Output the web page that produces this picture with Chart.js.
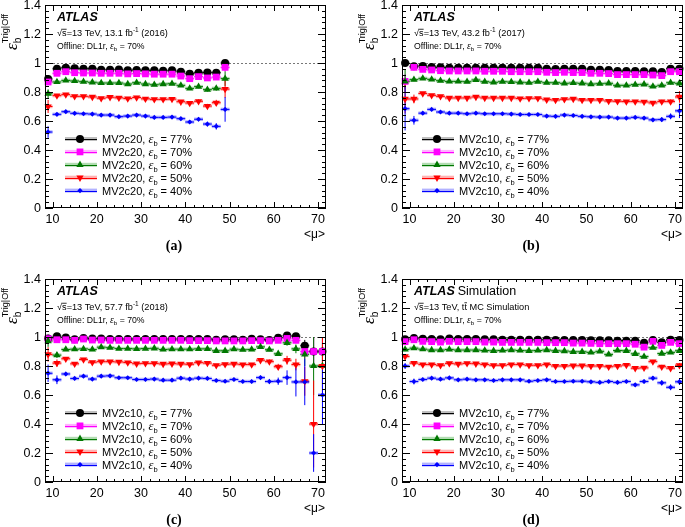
<!DOCTYPE html>
<html>
<head>
<meta charset="utf-8">
<script src="https://cdn.jsdelivr.net/npm/chart.js@4.4.1/dist/chart.umd.min.js"></script>
<style>
  html, body { margin: 0; padding: 0; background: #fff; overflow: hidden; }
  #wrap { position: relative; width: 685px; height: 527px; overflow: hidden; }
  canvas { position: absolute; }
</style>
</head>
<body>
<div id="wrap">
  <canvas id="pa" width="340" height="262" style="left:0;top:0"></canvas>
  <canvas id="pb" width="340" height="262" style="left:357px;top:0"></canvas>
  <canvas id="pc" width="340" height="262" style="left:0;top:274px"></canvas>
  <canvas id="pd" width="340" height="262" style="left:357px;top:274px"></canvas>
</div>
<script>
// axis ticks
const xTicks = [10, 20, 30, 40, 50, 60, 70];
const yTicks = [0, 0.2, 0.4, 0.6, 0.8, 1.0, 1.2, 1.4];
const wpLabels = ["77%", "70%", "60%", "50%", "40%"];

// <mu> bin centres
const mu2016 = [9, 11, 13, 15, 17, 19, 21, 23, 25, 27, 29, 31, 33, 35, 37, 39, 41, 43, 45, 47, 49];
const muFull = [9, 11, 13, 15, 17, 19, 21, 23, 25, 27, 29, 31, 33, 35, 37, 39,
                41, 43, 45, 47, 49, 51, 53, 55, 57, 59, 61, 63, 65, 67, 69, 71];

// (a) 2016, MV2c20
const effA77 = [0.89, 0.96, 0.968, 0.963, 0.961, 0.961, 0.954, 0.954, 0.955, 0.95, 0.952, 0.95, 0.95, 0.947, 0.95, 0.94, 0.926, 0.933, 0.935, 0.933, 1.0];
const effA70 = [0.869, 0.929, 0.94, 0.933, 0.931, 0.931, 0.929, 0.929, 0.929, 0.925, 0.927, 0.925, 0.923, 0.923, 0.923, 0.91, 0.892, 0.906, 0.897, 0.903, 0.97];
const effA60 = [0.788, 0.869, 0.88, 0.876, 0.871, 0.867, 0.862, 0.862, 0.862, 0.855, 0.864, 0.855, 0.85, 0.855, 0.857, 0.846, 0.825, 0.837, 0.816, 0.825, 0.892];
const effA50 = [0.70, 0.775, 0.782, 0.77, 0.77, 0.766, 0.757, 0.764, 0.76, 0.755, 0.762, 0.753, 0.749, 0.749, 0.751, 0.733, 0.724, 0.736, 0.703, 0.726, 0.82];
const effA40 = [0.524, 0.646, 0.664, 0.653, 0.65, 0.648, 0.641, 0.641, 0.63, 0.634, 0.641, 0.634, 0.625, 0.625, 0.627, 0.616, 0.593, 0.612, 0.579, 0.563, 0.68];
const errA77 = [0.015, 0.005, 0.004, 0.004, 0.004, 0.004, 0.004, 0.004, 0.004, 0.004, 0.004, 0.004, 0.005, 0.005, 0.005, 0.006, 0.007, 0.008, 0.009, 0.011, 0.02];
const errA70 = [0.02, 0.006, 0.005, 0.005, 0.005, 0.005, 0.005, 0.005, 0.005, 0.005, 0.005, 0.005, 0.006, 0.006, 0.006, 0.007, 0.008, 0.009, 0.011, 0.013, 0.03];
const errA60 = [0.03, 0.007, 0.006, 0.006, 0.006, 0.006, 0.006, 0.006, 0.006, 0.006, 0.006, 0.006, 0.007, 0.007, 0.007, 0.008, 0.009, 0.011, 0.013, 0.016, 0.05];
const errA50 = [0.045, 0.008, 0.007, 0.007, 0.007, 0.007, 0.007, 0.007, 0.007, 0.007, 0.007, 0.007, 0.008, 0.008, 0.008, 0.009, 0.011, 0.013, 0.015, 0.02, 0.06];
const errA40 = [0.04, 0.009, 0.008, 0.008, 0.008, 0.008, 0.008, 0.008, 0.008, 0.008, 0.008, 0.008, 0.009, 0.009, 0.009, 0.01, 0.012, 0.014, 0.016, 0.022, 0.085];

// (b) 2017, MV2c10
const effB77 = [1.0, 0.977, 0.98, 0.972, 0.97, 0.968, 0.968, 0.968,
                0.968, 0.968, 0.968, 0.968, 0.968, 0.968, 0.968, 0.968,
                0.961, 0.959, 0.961, 0.961, 0.961, 0.954, 0.954, 0.952,
                0.945, 0.945, 0.945, 0.943, 0.943, 0.938, 0.961, 0.961];
const effB70 = [0.873, 0.97, 0.956, 0.952, 0.947, 0.945, 0.945, 0.945,
                0.945, 0.943, 0.943, 0.943, 0.94, 0.94, 0.94, 0.94,
                0.936, 0.934, 0.936, 0.934, 0.934, 0.929, 0.929, 0.927,
                0.92, 0.92, 0.92, 0.92, 0.917, 0.913, 0.94, 0.94];
const effB60 = [0.873, 0.885, 0.894, 0.887, 0.878, 0.873, 0.873, 0.871,
                0.883, 0.871, 0.867, 0.871, 0.869, 0.867, 0.864, 0.871,
                0.864, 0.864, 0.86, 0.862, 0.86, 0.855, 0.857, 0.86,
                0.846, 0.846, 0.851, 0.853, 0.839, 0.846, 0.864, 0.86];
const effB50 = [0.752, 0.752, 0.79, 0.777, 0.77, 0.759, 0.759, 0.759,
                0.766, 0.759, 0.759, 0.759, 0.759, 0.755, 0.757, 0.757,
                0.747, 0.745, 0.75, 0.752, 0.745, 0.745, 0.745, 0.738,
                0.736, 0.734, 0.734, 0.732, 0.725, 0.734, 0.734, 0.766];
const effB40 = [0.685, 0.605, 0.654, 0.68, 0.662, 0.654, 0.654, 0.65,
                0.654, 0.65, 0.65, 0.65, 0.648, 0.645, 0.645, 0.645,
                0.634, 0.632, 0.641, 0.638, 0.632, 0.629, 0.627, 0.627,
                0.62, 0.62, 0.625, 0.62, 0.608, 0.61, 0.632, 0.67];
const errB77 = [0.02, 0.006, 0.004, 0.004, 0.003, 0.003, 0.003, 0.003,
                0.003, 0.003, 0.003, 0.003, 0.003, 0.003, 0.003, 0.003,
                0.003, 0.003, 0.003, 0.003, 0.003, 0.003, 0.003, 0.003,
                0.004, 0.004, 0.004, 0.004, 0.005, 0.006, 0.008, 0.012];
const errB70 = [0.05, 0.008, 0.005, 0.004, 0.004, 0.004, 0.004, 0.004,
                0.004, 0.004, 0.004, 0.004, 0.004, 0.004, 0.004, 0.004,
                0.004, 0.004, 0.004, 0.004, 0.004, 0.004, 0.004, 0.004,
                0.005, 0.005, 0.005, 0.005, 0.006, 0.007, 0.01, 0.015];
const errB60 = [0.08, 0.01, 0.006, 0.005, 0.005, 0.005, 0.005, 0.005,
                0.005, 0.005, 0.005, 0.005, 0.005, 0.005, 0.005, 0.005,
                0.005, 0.005, 0.005, 0.005, 0.005, 0.005, 0.005, 0.005,
                0.006, 0.006, 0.006, 0.006, 0.007, 0.008, 0.012, 0.02];
const errB50 = [0.1, 0.03, 0.008, 0.006, 0.006, 0.006, 0.006, 0.006,
                0.006, 0.006, 0.006, 0.006, 0.006, 0.006, 0.006, 0.006,
                0.006, 0.006, 0.006, 0.006, 0.006, 0.006, 0.006, 0.006,
                0.007, 0.007, 0.008, 0.008, 0.009, 0.012, 0.015, 0.04];
const errB40 = [0.15, 0.03, 0.01, 0.008, 0.008, 0.008, 0.008, 0.008,
                0.008, 0.008, 0.008, 0.008, 0.008, 0.008, 0.008, 0.008,
                0.008, 0.008, 0.008, 0.008, 0.008, 0.008, 0.008, 0.008,
                0.009, 0.009, 0.01, 0.01, 0.012, 0.015, 0.02, 0.05];

// (c) 2018, MV2c10
const effC77 = [0.99, 1.005, 0.997, 0.984, 0.993, 0.99, 0.99, 0.986,
                0.986, 0.986, 0.986, 0.986, 0.986, 0.986, 0.986, 0.986,
                0.986, 0.986, 0.986, 0.981, 0.984, 0.984, 0.981, 0.988,
                0.984, 0.98, 0.995, 1.01, 1.005, 0.94, 0.9, 0.9];
const effC70 = [0.988, 0.981, 0.981, 0.977, 0.986, 0.979, 0.979, 0.977,
                0.977, 0.977, 0.977, 0.977, 0.977, 0.977, 0.977, 0.977,
                0.975, 0.975, 0.975, 0.973, 0.973, 0.973, 0.973, 0.975,
                0.975, 0.973, 0.977, 0.99, 0.977, 0.9, 0.9, 0.9];
const effC60 = [0.972, 0.875, 0.914, 0.916, 0.918, 0.914, 0.93, 0.926,
                0.92, 0.92, 0.918, 0.92, 0.922, 0.914, 0.916, 0.916,
                0.916, 0.918, 0.918, 0.905, 0.905, 0.916, 0.912, 0.914,
                0.932, 0.912, 0.884, 0.96, 0.918, 0.88, 0.8, 0.8];
const effC50 = [0.88, 0.82, 0.85, 0.815, 0.845, 0.826, 0.83, 0.83,
                0.828, 0.824, 0.816, 0.818, 0.818, 0.814, 0.816, 0.814,
                0.812, 0.823, 0.82, 0.805, 0.812, 0.814, 0.81, 0.81,
                0.84, 0.83, 0.795, 0.84, 0.81, 0.695, 0.4, 0.8];
const effC40 = [0.75, 0.705, 0.745, 0.714, 0.73, 0.71, 0.73, 0.732,
                0.719, 0.719, 0.707, 0.707, 0.71, 0.702, 0.702, 0.716,
                0.71, 0.716, 0.714, 0.7, 0.695, 0.707, 0.693, 0.693,
                0.72, 0.693, 0.695, 0.72, 0.69, 0.69, 0.2, 0.6];
const errC77 = [0.02, 0.008, 0.005, 0.004, 0.004, 0.004, 0.004, 0.004,
                0.004, 0.004, 0.004, 0.004, 0.004, 0.004, 0.004, 0.004,
                0.004, 0.004, 0.004, 0.004, 0.004, 0.004, 0.005, 0.005,
                0.005, 0.006, 0.008, 0.01, 0.015, 0.04, 0.1, 0.1];
const errC70 = [0.03, 0.01, 0.006, 0.005, 0.005, 0.005, 0.005, 0.005,
                0.005, 0.005, 0.005, 0.005, 0.005, 0.005, 0.005, 0.005,
                0.005, 0.005, 0.005, 0.005, 0.005, 0.005, 0.006, 0.006,
                0.006, 0.007, 0.01, 0.012, 0.02, 0.05, 0.1, 0.08];
const errC60 = [0.04, 0.02, 0.008, 0.006, 0.006, 0.006, 0.006, 0.006,
                0.006, 0.006, 0.006, 0.006, 0.006, 0.006, 0.006, 0.006,
                0.006, 0.006, 0.006, 0.006, 0.006, 0.006, 0.007, 0.008,
                0.008, 0.01, 0.015, 0.02, 0.03, 0.08, 0.2, 0.15];
const errC50 = [0.05, 0.025, 0.01, 0.008, 0.008, 0.008, 0.008, 0.008,
                0.008, 0.008, 0.008, 0.008, 0.008, 0.008, 0.008, 0.008,
                0.008, 0.008, 0.008, 0.008, 0.008, 0.008, 0.009, 0.01,
                0.01, 0.015, 0.02, 0.03, 0.04, 0.1, 0.3, 0.2];
const errC40 = [0.06, 0.03, 0.015, 0.01, 0.01, 0.01, 0.01, 0.01,
                0.01, 0.01, 0.01, 0.01, 0.01, 0.01, 0.01, 0.01,
                0.01, 0.01, 0.01, 0.01, 0.01, 0.01, 0.011, 0.012,
                0.012, 0.018, 0.025, 0.05, 0.1, 0.16, 0.13, 0.2];

// (d) ttbar MC simulation, MV2c10
const effD77 = [0.984, 0.993, 0.988, 0.986, 0.984, 0.99, 0.986, 0.986,
                0.986, 0.984, 0.984, 0.981, 0.981, 0.981, 0.981, 0.981,
                0.981, 0.979, 0.979, 0.979, 0.979, 0.977, 0.977, 0.977,
                0.975, 0.975, 0.975, 0.96, 0.979, 0.963, 0.981, 0.979];
const effD70 = [0.968, 0.981, 0.97, 0.968, 0.965, 0.97, 0.968, 0.968,
                0.968, 0.965, 0.965, 0.963, 0.963, 0.963, 0.963, 0.963,
                0.961, 0.961, 0.961, 0.958, 0.958, 0.956, 0.954, 0.954,
                0.954, 0.954, 0.95, 0.93, 0.97, 0.942, 0.963, 0.954];
const effD60 = [0.914, 0.923, 0.916, 0.91, 0.91, 0.914, 0.91, 0.91,
                0.91, 0.907, 0.905, 0.907, 0.91, 0.907, 0.905, 0.907,
                0.91, 0.905, 0.903, 0.898, 0.898, 0.894, 0.901, 0.88,
                0.907, 0.905, 0.884, 0.865, 0.926, 0.886, 0.894, 0.905];
const effD50 = [0.866, 0.82, 0.81, 0.81, 0.805, 0.818, 0.814, 0.818,
                0.816, 0.81, 0.805, 0.805, 0.81, 0.81, 0.805, 0.805,
                0.81, 0.8, 0.8, 0.802, 0.802, 0.8, 0.8, 0.795,
                0.8, 0.807, 0.785, 0.787, 0.83, 0.795, 0.785, 0.805];
const effD40 = [0.8, 0.693, 0.707, 0.716, 0.709, 0.718, 0.705, 0.709,
                0.705, 0.705, 0.7, 0.705, 0.705, 0.705, 0.695, 0.7,
                0.705, 0.693, 0.693, 0.695, 0.695, 0.691, 0.687, 0.693,
                0.687, 0.693, 0.67, 0.693, 0.716, 0.684, 0.653, 0.691];
const errD77 = [0.008, 0.005, 0.004, 0.003, 0.003, 0.003, 0.003, 0.003,
                0.003, 0.003, 0.003, 0.003, 0.003, 0.003, 0.003, 0.003,
                0.003, 0.003, 0.003, 0.003, 0.003, 0.003, 0.003, 0.003,
                0.004, 0.004, 0.004, 0.005, 0.006, 0.006, 0.007, 0.008];
const errD70 = [0.01, 0.006, 0.004, 0.004, 0.004, 0.004, 0.004, 0.004,
                0.004, 0.004, 0.004, 0.004, 0.004, 0.004, 0.004, 0.004,
                0.004, 0.004, 0.004, 0.004, 0.004, 0.004, 0.004, 0.004,
                0.005, 0.005, 0.005, 0.006, 0.007, 0.008, 0.009, 0.01];
const errD60 = [0.012, 0.008, 0.005, 0.005, 0.005, 0.005, 0.005, 0.005,
                0.005, 0.005, 0.005, 0.005, 0.005, 0.005, 0.005, 0.005,
                0.005, 0.005, 0.005, 0.005, 0.005, 0.005, 0.005, 0.005,
                0.006, 0.006, 0.007, 0.008, 0.009, 0.01, 0.011, 0.012];
const errD50 = [0.015, 0.012, 0.006, 0.006, 0.006, 0.006, 0.006, 0.006,
                0.006, 0.006, 0.006, 0.006, 0.006, 0.006, 0.006, 0.006,
                0.006, 0.006, 0.006, 0.006, 0.006, 0.006, 0.006, 0.006,
                0.008, 0.008, 0.009, 0.01, 0.012, 0.013, 0.015, 0.016];
const errD40 = [0.02, 0.02, 0.008, 0.008, 0.008, 0.008, 0.008, 0.008,
                0.008, 0.008, 0.008, 0.008, 0.008, 0.008, 0.008, 0.008,
                0.008, 0.008, 0.008, 0.008, 0.008, 0.008, 0.008, 0.008,
                0.01, 0.01, 0.012, 0.013, 0.015, 0.018, 0.02, 0.022];

const SANS = "'Liberation Sans', Arial, Helvetica, sans-serif";
const SERIF = "'Liberation Serif', 'Times New Roman', serif";
const sans = (size, style = "") => `${style} ${size}px ${SANS}`;
const greek = (size) => `italic ${size}px ${SERIF}`;
const SYS = 0.012; // half height of the light band

const styles = [
  { color: "#000000", band: "rgba(0,0,0,0.25)", pointStyle: "circle", radius: 4, rotation: 0 },
  { color: "#ff00ff", band: "rgba(255,0,255,0.3)", pointStyle: "rect", radius: 4.8, rotation: 0 },
  { color: "#007700", band: "rgba(0,140,0,0.3)", pointStyle: "triangle", radius: 4.2, rotation: 0 },
  { color: "#ff0000", band: "rgba(255,0,0,0.3)", pointStyle: "triangle", radius: 4.2, rotation: 180 },
  { color: "#0000ff", band: "rgba(0,0,255,0.3)", pointStyle: "rectRot", radius: 2.6, rotation: 0 },
];

Chart.defaults.font.family = SANS;

// draw a run of text pieces (sub/superscripts) along the baseline
function drawRich(ctx, x, y, parts) {
  let cx = x;
  parts.forEach((p) => {
    ctx.font = p.f;
    const yy = y + (p.dy || 0);
    ctx.fillText(p.t, cx, yy);
    const w = ctx.measureText(p.t).width;
    if (p.over) ctx.fillRect(cx, yy - p.over, w, 0.8);
    if (!p.stay) cx += w;
  });
  return cx;
}

const hepPlugin = {
  id: "hep",
  beforeDatasetsDraw(chart) {
    const { ctx, chartArea: a, scales: { x, y } } = chart;
    ctx.save();
    ctx.beginPath();
    ctx.rect(a.left, a.top, a.width, a.height);
    ctx.clip();
    // dotted line at unity
    const y1 = Math.round(y.getPixelForValue(1)) + 0.5;
    ctx.strokeStyle = "#777";
    ctx.lineWidth = 1;
    ctx.setLineDash([2, 2]);
    ctx.beginPath();
    ctx.moveTo(a.left, y1);
    ctx.lineTo(a.right, y1);
    ctx.stroke();
    ctx.setLineDash([]);
    // bands and error bars
    chart.data.datasets.forEach((ds, i) => {
      const st = styles[i];
      ds.data.forEach((p) => {
        const xl = x.getPixelForValue(p.x - 1);
        const xr = x.getPixelForValue(p.x + 1);
        const xc = x.getPixelForValue(p.x);
        const yc = y.getPixelForValue(p.y);
        const yt = y.getPixelForValue(p.y + SYS);
        const yb = y.getPixelForValue(p.y - SYS);
        ctx.fillStyle = st.band;
        ctx.fillRect(xl, yt, xr - xl, yb - yt);
        ctx.strokeStyle = st.color;
        ctx.beginPath();
        ctx.moveTo(xl, yc);
        ctx.lineTo(xr, yc);
        ctx.moveTo(xc, y.getPixelForValue(p.y + p.err));
        ctx.lineTo(xc, y.getPixelForValue(p.y - p.err));
        ctx.stroke();
      });
    });
    ctx.restore();
  },
  afterDraw(chart, args, info) {
    const { ctx, chartArea: a, scales: { x, y } } = chart;
    ctx.save();
    // frame with inward ticks on all sides
    ctx.strokeStyle = "#000";
    ctx.lineWidth = 1;
    ctx.strokeRect(a.left + 0.5, a.top + 0.5, a.width - 1, a.height - 1);
    ctx.beginPath();
    for (let v = 10; v <= 70; v += 2) {
      const px = Math.round(x.getPixelForValue(v)) + 0.5;
      const len = v % 10 === 0 ? 6 : 3;
      ctx.moveTo(px, a.bottom); ctx.lineTo(px, a.bottom - len);
      ctx.moveTo(px, a.top); ctx.lineTo(px, a.top + len);
    }
    for (let k = 0; k <= 35; k++) {
      const py = Math.round(y.getPixelForValue(k * 0.04)) + 0.5;
      const len = k % 5 === 0 ? 8 : 4;
      ctx.moveTo(a.left, py); ctx.lineTo(a.left + len, py);
      ctx.moveTo(a.right, py); ctx.lineTo(a.right - len, py);
    }
    ctx.stroke();

    // tick labels from the scales' own ticks
    ctx.fillStyle = "#000";
    ctx.font = sans(12.5);
    ctx.textAlign = "center";
    ctx.textBaseline = "alphabetic";
    x.ticks.forEach((t) => ctx.fillText(String(t.value), x.getPixelForValue(t.value), a.bottom + 15));
    ctx.textAlign = "right";
    ctx.textBaseline = "middle";
    y.ticks.forEach((t) => ctx.fillText(String(+t.value.toFixed(1)), a.left - 4, y.getPixelForValue(t.value) + 0.5));

    ctx.textAlign = "left";
    ctx.textBaseline = "alphabetic";

    // labels in the top-left corner
    const tx = a.left + 12;
    let ex = drawRich(ctx, tx, a.top + 16, [{ t: "ATLAS", f: sans(12.5, "bold italic") }]);
    if (info.extra) drawRich(ctx, ex + 3, a.top + 16, [{ t: info.extra, f: sans(12.5) }]);
    const energy = [
      { t: "√", f: sans(9.2) },
      { t: "s", f: sans(9.2), over: 7.2 },
      { t: "=13 TeV, ", f: sans(9.2) },
    ];
    if (info.lumi) {
      energy.push({ t: info.lumi + " fb", f: sans(9.2) });
      energy.push({ t: "-1", f: sans(6.5), dy: -3.8 });
      energy.push({ t: " " + info.year, f: sans(9.2) });
    } else {
      energy.push({ t: "t", f: sans(9.2) });
      energy.push({ t: "t", f: sans(9.2), over: 7.6 });
      energy.push({ t: " MC Simulation", f: sans(9.2) });
    }
    drawRich(ctx, tx, a.top + 31, energy);
    drawRich(ctx, tx, a.top + 43.5, [
      { t: "Offline: DL1r, ", f: sans(8.7) },
      { t: "ε", f: greek(9.8) },
      { t: "b", f: sans(6.2), dy: 2 },
      { t: " = 70%", f: sans(8.7) },
    ]);

    // legend
    chart.data.datasets.forEach((ds, i) => {
      const st = styles[i];
      const ly = a.top + 134 + i * 12.9;
      ctx.fillStyle = st.band;
      ctx.fillRect(a.left + 20, ly - 2, 32, 4);
      ctx.strokeStyle = st.color;
      ctx.beginPath();
      ctx.moveTo(a.left + 20, Math.round(ly) + 0.5);
      ctx.lineTo(a.left + 52, Math.round(ly) + 0.5);
      ctx.stroke();
      ctx.fillStyle = st.color;
      Chart.helpers.drawPoint(ctx, { pointStyle: st.pointStyle, radius: st.radius, rotation: st.rotation, borderWidth: 0 }, a.left + 35, ly);
      ctx.fillStyle = "#000";
      drawRich(ctx, a.left + 57, ly + 4, [
        { t: info.tagger + ", ", f: sans(11) },
        { t: "ε", f: greek(12.5) },
        { t: "b", f: sans(7.5), dy: 3 },
        { t: " = " + wpLabels[i], f: sans(11) },
      ]);
    });

    // y title, rotated
    ctx.save();
    ctx.translate(a.left - 28, a.top + 45);
    ctx.rotate(-Math.PI / 2);
    drawRich(ctx, 0, 0, [
      { t: "ε", f: greek(17) },
      { t: "b", f: sans(10), dy: 4, stay: true },
      { t: "Trig|Off", f: sans(9), dy: -9 },
    ]);
    ctx.restore();

    // x title
    ctx.textAlign = "right";
    ctx.font = sans(12);
    ctx.fillText("<μ>", a.right - 1, a.bottom + 30);

    // caption
    ctx.textAlign = "center";
    ctx.font = `bold 14px ${SERIF}`;
    ctx.fillText(info.caption, a.left + 129, a.bottom + 42);
    ctx.restore();
  },
};

function makePanel(id, mu, values, errors, info) {
  const ctx = document.getElementById(id).getContext("2d");
  return new Chart(ctx, {
    type: "scatter",
    data: {
      datasets: values.map((vals, i) => ({
        label: info.tagger + " " + wpLabels[i],
        data: mu.map((m, k) => ({ x: m, y: vals[k], err: errors[i][k] })),
        order: 4 - i,
        clip: 8,
        showLine: false,
        pointStyle: styles[i].pointStyle,
        pointRadius: styles[i].radius,
        pointRotation: styles[i].rotation,
        pointBackgroundColor: styles[i].color,
        pointBorderColor: styles[i].color,
        pointBorderWidth: 0,
      })),
    },
    options: {
      responsive: false,
      animation: false,
      events: [],
      layout: { padding: { top: 5, right: 14, left: 0, bottom: 0 } },
      plugins: {
        legend: { display: false },
        tooltip: { enabled: false },
        hep: info,
      },
      scales: {
        x: {
          type: "linear",
          min: 8.3,
          max: 71.8,
          afterBuildTicks: (s) => { s.ticks = xTicks.map((v) => ({ value: v })); },
          afterFit: (s) => { s.height = 54; },
          grid: { display: false },
          border: { display: false },
          ticks: { display: false },
        },
        y: {
          min: 0,
          max: 1.4,
          afterBuildTicks: (s) => { s.ticks = yTicks.map((v) => ({ value: v })); },
          afterFit: (s) => { s.width = 45; },
          grid: { display: false },
          border: { display: false },
          ticks: { display: false },
        },
      },
    },
    plugins: [hepPlugin],
  });
}

makePanel("pa", mu2016, [effA77, effA70, effA60, effA50, effA40], [errA77, errA70, errA60, errA50, errA40],
  { tagger: "MV2c20", lumi: "13.1", year: "(2016)", caption: "(a)" });
makePanel("pb", muFull, [effB77, effB70, effB60, effB50, effB40], [errB77, errB70, errB60, errB50, errB40],
  { tagger: "MV2c10", lumi: "43.2", year: "(2017)", caption: "(b)" });
makePanel("pc", muFull, [effC77, effC70, effC60, effC50, effC40], [errC77, errC70, errC60, errC50, errC40],
  { tagger: "MV2c10", lumi: "57.7", year: "(2018)", caption: "(c)" });
makePanel("pd", muFull, [effD77, effD70, effD60, effD50, effD40], [errD77, errD70, errD60, errD50, errD40],
  { tagger: "MV2c10", extra: "Simulation", caption: "(d)" });
</script>
</body>
</html>
